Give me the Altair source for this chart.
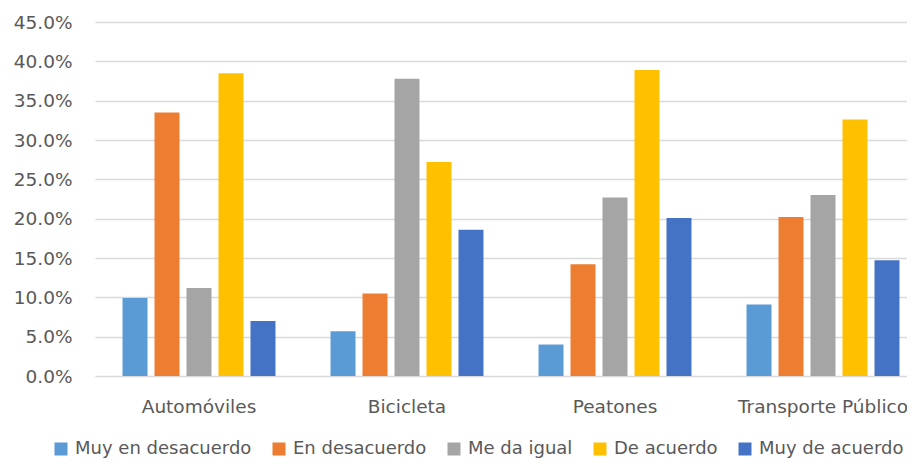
import altair as alt
import pandas as pd

categorias = ["Automóviles", "Bicicleta", "Peatones", "Transporte Público"]
series = ["Muy en desacuerdo", "En desacuerdo", "Me da igual", "De acuerdo", "Muy de acuerdo"]
colores = ["#5B9BD5", "#ED7D31", "#A5A5A5", "#FFC000", "#4472C4"]

muy_en_desacuerdo = [0.099, 0.057, 0.040, 0.091]
en_desacuerdo = [0.335, 0.105, 0.142, 0.202]
me_da_igual = [0.112, 0.378, 0.227, 0.230]
de_acuerdo = [0.385, 0.272, 0.389, 0.326]
muy_de_acuerdo = [0.070, 0.186, 0.201, 0.147]

valores = [muy_en_desacuerdo, en_desacuerdo, me_da_igual, de_acuerdo, muy_de_acuerdo]
ticks_y = [0, 0.05, 0.10, 0.15, 0.20, 0.25, 0.30, 0.35, 0.40, 0.45]

rows = []
for s, vals in zip(series, valores):
    for c, v in zip(categorias, vals):
        rows.append({"categoria": c, "serie": s, "valor": v})
df = pd.DataFrame(rows)

FONT = "DejaVu Sans"
GRAY = "#595959"

chart = alt.Chart(df).mark_bar().encode(
    x=alt.X("categoria:N", sort=categorias, title=None,
            scale=alt.Scale(range=[0, 832], paddingInner=0, paddingOuter=0),
            axis=alt.Axis(labelAngle=0, ticks=False, domain=False, labelPadding=21,
                          labelFont=FONT, labelFontSize=18.5, labelColor=GRAY)),
    xOffset=alt.XOffset("serie:N", sort=series,
                        scale=alt.Scale(paddingInner=0.219, paddingOuter=0.86)),
    y=alt.Y("valor:Q", title=None,
            scale=alt.Scale(domain=[0, 0.45], nice=False),
            axis=alt.Axis(values=ticks_y, format=".1%", ticks=False, domain=False,
                          labelPadding=23, labelFont=FONT, labelFontSize=18.5,
                          labelColor=GRAY, gridColor="#D9D9D9", gridWidth=1.3)),
    color=alt.Color("serie:N", sort=series,
                    scale=alt.Scale(domain=series, range=colores),
                    legend=alt.Legend(title=None, orient="none", direction="horizontal",
                                      legendX=-43, legendY=418, columns=5,
                                      symbolType="square", symbolSize=169,
                                      symbolStrokeWidth=0, labelOffset=5,
                                      columnPadding=18, labelFont=FONT,
                                      labelFontSize=18, labelColor=GRAY,
                                      labelLimit=400)),
).properties(
    width=812,
    height=354,
    autosize=alt.AutoSizeParams(type="none"),
    padding={"left": 87, "top": 14, "right": 0, "bottom": 85},
).configure_view(stroke=None)

chart.save("out.html", embed_options={"renderer": "svg", "actions": False})
